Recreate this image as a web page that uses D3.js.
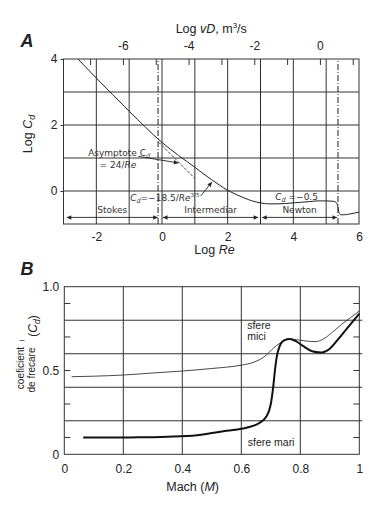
<!DOCTYPE html>
<html><head><meta charset="utf-8">
<script src="https://cdn.jsdelivr.net/npm/d3@7"></script>
<style>
body{margin:0;background:#fff}
svg{display:block}
text{font-family:"Liberation Sans",Arial,sans-serif;fill:#222}
.ann{font-family:"DejaVu Sans","Liberation Sans",sans-serif;font-size:9px;fill:#333}
.grid{stroke:#333;stroke-width:1;fill:none}
</style>
</head><body>
<svg id="c" width="381" height="506"></svg>
<script>
// ---------- Chart A data ----------
const logRe = [-2.56,-2,-1.5,-1,-0.5,0,0.25,0.5,0.75,1,1.25,1.5,1.75,2,2.25,2.5,2.75,3,3.25,3.5,3.75,4,4.25,4.5,4.75,5,5.2,5.3,5.35,5.39,5.45,5.55,5.7,5.85,6];
const logCd = [4.0,3.42,2.92,2.42,1.93,1.47,1.27,1.08,0.9,0.72,0.53,0.35,0.18,0.02,-0.1,-0.21,-0.3,-0.36,-0.39,-0.39,-0.38,-0.36,-0.34,-0.32,-0.3,-0.3,-0.31,-0.34,-0.45,-0.66,-0.72,-0.72,-0.7,-0.67,-0.64];
const asymRe = [-0.1, 1.0];
const asymCd = [1.48, 0.38];
const reTicks = [-2,0,2,4,6];
const cdTicks = [0,2,4];
const vdTicks = [-7,-6,-5,-4,-3,-2,-1,0,1];
const vdLabels = [-6,-4,-2,0];
const reGrid = [-2,-1,0,1,2,3,4,5];
const cdGrid = [0,1,2,3];
const regimeBoundaries = [-0.12, 3.0, 5.36];
const regimeNames = ["Stokes","Intermediar","Newton"];
const regimeStart = [-2.9, 0.03, 3.05];
const regimeEnd = [-0.13, 2.93, 5.33];

// ---------- Chart B data ----------
const machMici = [0.025,0.1,0.2,0.3,0.4,0.5,0.6,0.64,0.68,0.71,0.74,0.765,0.79,0.82,0.85,0.88,0.91,0.94,0.97,1.0];
const cdMici   = [0.463,0.466,0.473,0.485,0.497,0.512,0.532,0.548,0.585,0.635,0.672,0.688,0.683,0.676,0.672,0.69,0.73,0.775,0.815,0.855];
const machMari = [0.064,0.15,0.25,0.35,0.45,0.55,0.62,0.66,0.685,0.7,0.708,0.714,0.72,0.73,0.745,0.765,0.785,0.81,0.84,0.87,0.9,0.93,0.96,1.0];
const cdMari   = [0.1,0.1,0.101,0.105,0.114,0.14,0.16,0.185,0.225,0.3,0.4,0.5,0.58,0.645,0.68,0.688,0.675,0.645,0.615,0.608,0.63,0.69,0.755,0.84];
const machTicks = [0,0.2,0.4,0.6,0.8,1];
const machLabels = ["0","0.2","0.4","0.6","0.8","1"];
const cdBTicks = [0,0.5,1.0];
const cdBLabels = ["0","0.5","1.0"];
const machGrid = [0.2,0.4,0.6,0.8];
const cdBGrid = [0.2,0.4,0.6,0.8];
const cdBMinor = [0.1,0.3,0.5,0.7,0.9];

const svg = d3.select("#c");
const defs = svg.append("defs");
defs.append("marker").attr("id","ah").attr("viewBox","0 0 10 10").attr("refX",10).attr("refY",5)
  .attr("markerWidth",6).attr("markerHeight",5).attr("orient","auto-start-reverse")
  .append("path").attr("d","M0,0L10,5L0,10z").attr("fill","#222");

// ================= Chart A =================
const xA = d3.scaleLinear().domain([-3,6]).range([63.5,359]);
const yA = d3.scaleLinear().domain([-1,4]).range([224,59]);
const xTop = d3.scaleLinear().domain([-7.81,1.19]).range([63.5,359]);
const gA = svg.append("g");

gA.selectAll(".vg").data(reGrid).join("line").attr("class","grid")
  .attr("x1",d=>xA(d)).attr("x2",d=>xA(d)).attr("y1",yA(-1)).attr("y2",yA(4));
gA.selectAll(".hg").data(cdGrid).join("line").attr("class","grid")
  .attr("x1",xA(-3)).attr("x2",xA(6)).attr("y1",d=>yA(d)).attr("y2",d=>yA(d));
gA.selectAll(".bd").data(regimeBoundaries).join("line")
  .attr("stroke","#222").attr("stroke-width",1).attr("stroke-dasharray","6,2,1,2")
  .attr("x1",d=>xA(d)).attr("x2",d=>xA(d)).attr("y1",yA(-1)).attr("y2",yA(4));
gA.append("rect").attr("x",xA(-3)).attr("y",yA(4)).attr("width",xA(6)-xA(-3)).attr("height",yA(-1)-yA(4))
  .attr("fill","none").attr("stroke","#333");

// axes
const axB = gA.append("g").attr("transform",`translate(0,${yA(-1)})`)
  .call(d3.axisBottom(xA).tickValues(reTicks).tickSize(0).tickPadding(8).tickFormat(d3.format("d")));
const axT = gA.append("g").attr("transform",`translate(0,${yA(4)})`)
  .call(d3.axisTop(xTop).tickValues(vdTicks).tickSize(-6).tickPadding(9)
    .tickFormat(d=>vdLabels.includes(d)?String(d):""));
const axL = gA.append("g").attr("transform",`translate(${xA(-3)},0)`)
  .call(d3.axisLeft(yA).tickValues(cdTicks).tickSize(3).tickPadding(3).tickFormat(d=>String(d)));
[axB,axT,axL].forEach(a=>{a.select(".domain").remove();a.selectAll("text").attr("font-size",12).attr("fill","#222").attr("font-family","Liberation Sans, Arial, sans-serif");a.selectAll("line").attr("stroke","#333");});
axB.selectAll("text").text(d=>String(d));

// curves
const lineA = d3.line().x(d=>xA(d[0])).y(d=>yA(d[1])).curve(d3.curveMonotoneX);
gA.append("path").datum(logRe.map((r,i)=>[r,logCd[i]])).attr("d",lineA)
  .attr("fill","none").attr("stroke","#222").attr("stroke-width",1);
gA.append("path").datum(asymRe.map((r,i)=>[r,asymCd[i]])).attr("d",d3.line().x(d=>xA(d[0])).y(d=>yA(d[1])))
  .attr("fill","none").attr("stroke","#333").attr("stroke-width",0.9).attr("stroke-dasharray","3,1.5");

// regime arrows
regimeNames.forEach((n,i)=>{
  gA.append("line").attr("x1",xA(regimeStart[i])).attr("x2",xA(regimeEnd[i]))
    .attr("y1",yA(-0.8)).attr("y2",yA(-0.8)).attr("stroke","#222").attr("stroke-width",0.9)
    .attr("marker-start","url(#ah)").attr("marker-end","url(#ah)");
  gA.append("text").attr("class","ann").attr("font-size",9.5)
    .attr("x",xA((regimeStart[i]+regimeEnd[i])/2)).attr("y",yA(-0.58)).attr("dy","0.35em")
    .attr("text-anchor","middle").text(n);
});

// annotations
const t1 = gA.append("text").attr("class","ann").attr("x",xA(-2.25)).attr("y",yA(1.16)).attr("dy","0.35em");
t1.append("tspan").text("Asymptote C");
t1.append("tspan").attr("font-size",6.5).attr("font-style","italic").attr("dy","2").text("d");
const t2 = gA.append("text").attr("class","ann").attr("x",xA(-1.9)).attr("y",yA(0.8)).attr("dy","0.35em");
t2.append("tspan").text("= 24/");
t2.append("tspan").attr("font-style","italic").text("Re");
gA.append("line").attr("x1",xA(-0.72)).attr("y1",yA(1.05)).attr("x2",xA(0.5)).attr("y2",yA(0.85))
  .attr("stroke","#222").attr("stroke-width",0.9).attr("marker-end","url(#ah)");

const t3 = gA.append("text").attr("class","ann").attr("x",xA(-0.97)).attr("y",yA(-0.2)).attr("dy","0.35em");
t3.append("tspan").attr("font-style","italic").text("C");
t3.append("tspan").attr("font-size",6.5).attr("font-style","italic").attr("dy","2").text("d");
t3.append("tspan").attr("dy","-2").text("=\u221218.5/");
t3.append("tspan").attr("font-style","italic").text("Re");
t3.append("tspan").attr("font-size",5.5).attr("dy","-4").text("3/5");
gA.append("line").attr("x1",xA(1.18)).attr("y1",yA(-0.15)).attr("x2",xA(1.52)).attr("y2",yA(0.27))
  .attr("stroke","#222").attr("stroke-width",0.9).attr("marker-end","url(#ah)");

const t4 = gA.append("text").attr("class","ann").attr("x",xA(3.45)).attr("y",yA(-0.17)).attr("dy","0.35em");
t4.append("tspan").attr("font-style","italic").text("C");
t4.append("tspan").attr("font-size",6.5).attr("font-style","italic").attr("dy","2").text("d");
t4.append("tspan").attr("dy","-2").text(" =\u22120.5");

// titles
svg.append("text").attr("x",27).attr("y",47).attr("text-anchor","middle")
  .attr("font-family","Liberation Serif, Times New Roman, serif").attr("font-weight","bold").attr("font-style","italic")
  .attr("font-size",18).text("A");
const tt = svg.append("text").attr("x",xA(1.5)).attr("y",33).attr("text-anchor","middle").attr("font-size",12.5);
tt.append("tspan").text("Log ");
tt.append("tspan").attr("font-style","italic").text("vD");
tt.append("tspan").text(", m");
tt.append("tspan").attr("font-size",8).attr("dy","-5").text("3");
tt.append("tspan").attr("dy","5").text("/s");
const bx = svg.append("text").attr("x",xA(1.6)).attr("y",254).attr("text-anchor","middle").attr("font-size",12.5);
bx.append("tspan").text("Log ");
bx.append("tspan").attr("font-style","italic").text("Re");
const ly = svg.append("text").attr("transform","translate(32,134) rotate(-90)").attr("text-anchor","middle").attr("font-size",12.5);
ly.append("tspan").text("Log ");
ly.append("tspan").attr("font-style","italic").text("C");
ly.append("tspan").attr("font-style","italic").attr("font-size",9).attr("dy","3").text("d");

// ================= Chart B =================
const xB = d3.scaleLinear().domain([0,1]).range([64.3,359.3]);
const yB = d3.scaleLinear().domain([0,1]).range([454.3,286.7]);
const gB = svg.append("g");
gB.selectAll(".vg").data(machGrid).join("line").attr("class","grid")
  .attr("x1",d=>xB(d)).attr("x2",d=>xB(d)).attr("y1",yB(0)).attr("y2",yB(1));
gB.selectAll(".hg").data(cdBGrid).join("line").attr("class","grid")
  .attr("x1",xB(0)).attr("x2",xB(1)+3).attr("y1",d=>yB(d)).attr("y2",d=>yB(d));
gB.selectAll(".ml").data(cdBMinor).join("line").attr("stroke","#333")
  .attr("x1",xB(0)).attr("x2",xB(0)+6).attr("y1",d=>yB(d)).attr("y2",d=>yB(d));
gB.selectAll(".mr").data(cdBMinor).join("line").attr("stroke","#333")
  .attr("x1",xB(1)-6).attr("x2",xB(1)).attr("y1",d=>yB(d)).attr("y2",d=>yB(d));
gB.append("rect").attr("x",xB(0)).attr("y",yB(1)).attr("width",xB(1)-xB(0)).attr("height",yB(0)-yB(1))
  .attr("fill","none").attr("stroke","#333");

const axBx = gB.append("g").attr("transform",`translate(0,${yB(0)})`)
  .call(d3.axisBottom(xB).tickValues(machTicks).tickSize(0).tickPadding(10).tickFormat((d,i)=>machLabels[i]));
const axBy = gB.append("g").attr("transform",`translate(${xB(0)},0)`)
  .call(d3.axisLeft(yB).tickValues(cdBTicks).tickSize(0).tickPadding(5).tickFormat((d,i)=>cdBLabels[i]));
[axBx,axBy].forEach(a=>{a.select(".domain").remove();a.selectAll("text").attr("font-size",12).attr("fill","#222").attr("font-family","Liberation Sans, Arial, sans-serif");});

const lineB = d3.line().x(d=>xB(d[0])).y(d=>yB(d[1])).curve(d3.curveMonotoneX);
gB.append("path").datum(machMici.map((m,i)=>[m,cdMici[i]])).attr("d",lineB)
  .attr("fill","none").attr("stroke","#333").attr("stroke-width",0.9);
gB.append("path").datum(machMari.map((m,i)=>[m,cdMari[i]])).attr("d",lineB)
  .attr("fill","none").attr("stroke","#111").attr("stroke-width",2);

gB.append("text").attr("font-size",10.5).attr("x",xB(0.62)).attr("y",yB(0.745)).text("sfere");
gB.append("text").attr("font-size",10.5).attr("x",xB(0.62)).attr("y",yB(0.68)).text("mici");
gB.append("text").attr("font-size",10.5).attr("x",xB(0.622)).attr("y",yB(0.05)).text("sfere  mari");

svg.append("text").attr("x",27).attr("y",275).attr("text-anchor","middle")
  .attr("font-family","Liberation Serif, Times New Roman, serif").attr("font-weight","bold").attr("font-style","italic")
  .attr("font-size",18).text("B");
const mx = svg.append("text").attr("x",xB(0.435)).attr("y",491).attr("text-anchor","middle").attr("font-size",12.5);
mx.append("tspan").text("Mach  (");
mx.append("tspan").attr("font-style","italic").text("M");
mx.append("tspan").text(")");
const cdl = svg.append("text").attr("transform","translate(37,326) rotate(-90)").attr("text-anchor","middle").attr("font-size",12);
cdl.append("tspan").text("(");
cdl.append("tspan").attr("font-style","italic").text("C");
cdl.append("tspan").attr("font-style","italic").attr("font-size",8.5).attr("dy","3").text("d");
cdl.append("tspan").attr("dy","-3").text(")");
svg.append("text").attr("transform","translate(24,368) rotate(-90)").attr("text-anchor","middle").attr("font-size",10).text("coeficient");
svg.append("text").attr("transform","translate(35,370) rotate(-90)").attr("text-anchor","middle").attr("font-size",10).text("de frecare");
svg.append("text").attr("x",22).attr("y",343).attr("text-anchor","middle").attr("font-size",9).text("\u2013");
</script>
</body></html>
